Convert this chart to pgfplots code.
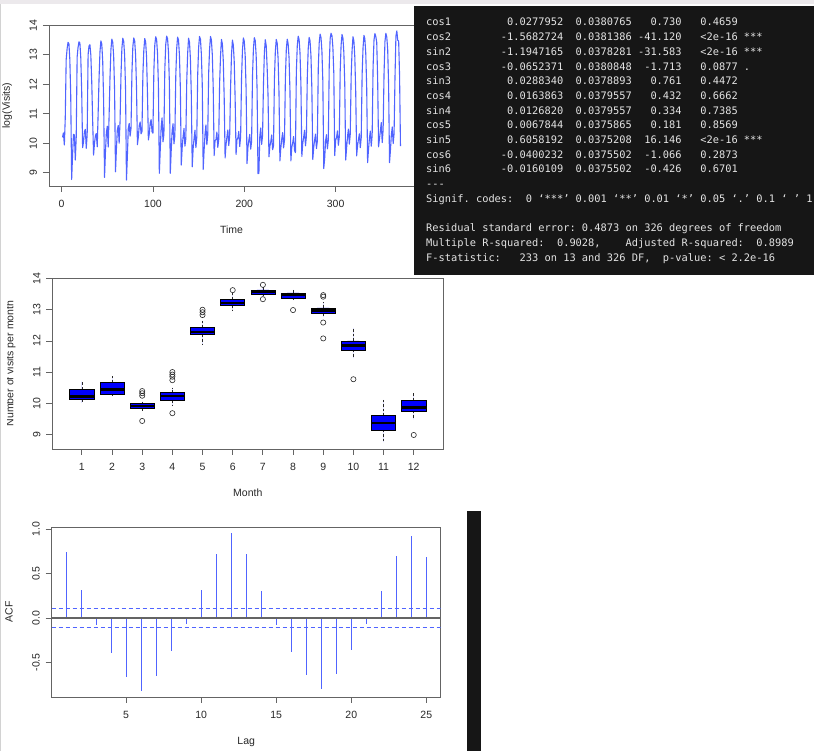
\documentclass[border=0pt]{standalone}
\usepackage{fontspec}
\setmainfont{Liberation Sans}
\newfontfamily\mono{DejaVu Sans Mono}
\usepackage{pgfplots}
\pgfplotsset{compat=1.18}
\usepgfplotslibrary{statistics}

\definecolor{rblue}{RGB}{0,0,255}
\definecolor{rline}{RGB}{80,100,255}
\definecolor{rframe}{RGB}{100,100,100}
\definecolor{rtext}{RGB}{40,40,40}
\definecolor{console}{RGB}{228,228,228}
\definecolor{panel}{RGB}{22,22,22}
\definecolor{strip}{RGB}{236,233,236}

\pgfplotsset{
  rstyle/.style={
    scale only axis,
    axis line style={rframe, line width=0.9pt},
    tick style={rframe, line width=0.8pt},
    major tick length=6pt,
    tick align=outside,
    xtick pos=left, ytick pos=left,
    /pgf/number format/assume math mode=true,
    tick label style={font=\fontsize{10.5}{12}\selectfont, text=rtext},
    xticklabel style={anchor=base, yshift=-16pt},
    yticklabel style={xshift=-6pt, rotate=90, anchor=base},
    every axis x label/.style={at={(axis description cs:0.5,0)}, yshift=-48pt, anchor=base,
      font=\fontsize{10.5}{12}\selectfont, text=rtext},
    every axis y label/.style={at={(axis description cs:0,0.5)}, xshift=-39pt, rotate=90, anchor=base,
      font=\fontsize{10.5}{12}\selectfont, text=rtext},
  },
  boxplot/draw/whisker/.code 2 args={%
    \draw[/pgfplots/boxplot/every whisker/.try, dash pattern=on 2.5pt off 2pt]
      (boxplot cs:#1) -- (boxplot cs:#2);
    \draw[/pgfplots/boxplot/every whisker/.try]
      (boxplot whisker cs:#1,0) -- (boxplot whisker cs:#1,1);
  },
  rbox/.style={draw=black, fill=rblue, line width=0.6pt,
    mark=o, mark size=2.6pt, mark options={draw=rtext, fill=none, solid, line width=0.6pt}},
}

% one console line: baseline (image y), text
\newcommand\conline[2]{\node[anchor=base west, inner sep=0pt, text=console,
  font=\mono\fontsize{10.35}{12}\selectfont] at (426,{751-#1}) {#2};}

\begin{document}
\begin{tikzpicture}[x=1pt,y=1pt]
\useasboundingbox (0,0) rectangle (814,751);
\fill[white] (0,0) rectangle (814,751);
\fill[strip] (0,747) rectangle (814,751);
\fill[gray!35] (0,0) rectangle (1.2,747);

% ---------------- time series ----------------
\begin{axis}[rstyle,
  at={(49pt,565pt)}, anchor=south west,
  width=365pt, height=161pt,
  xmin=-13.8, xmax=385.8, ymin=8.55, ymax=14.01,
  xtick={0,100,200,300}, ytick={9,10,11,12,13,14},
  xlabel={Time}, ylabel={log(Visits)},
]
\addplot[rline, line width=1.1pt, line join=round, no markers] coordinates {
(1,10.20)(2,10.35)(3,9.94)(4,10.85)(5,12.83)(6,13.20)(7,13.42)(8,13.38)(9,12.85)(10,11.60)(11,8.77)(12,9.60)
(13,10.30)(14,10.28)(15,9.43)(16,10.20)(17,12.92)(18,13.25)(19,13.44)(20,13.40)(21,12.90)(22,11.75)(23,9.85)(24,10.05)
(25,10.40)(26,10.47)(27,9.83)(28,10.30)(29,13.00)(30,13.30)(31,13.34)(32,12.99)(33,12.08)(34,10.77)(35,9.60)(36,10.00)
(37,10.25)(38,10.33)(39,9.88)(40,11.00)(41,12.20)(42,13.10)(43,13.47)(44,13.36)(45,12.78)(46,11.45)(47,8.84)(48,9.70)
(49,10.35)(50,10.58)(51,9.87)(52,10.92)(53,12.25)(54,13.18)(55,13.53)(56,13.42)(57,12.95)(58,11.80)(59,9.03)(60,9.80)
(61,10.45)(62,10.60)(63,10.00)(64,10.74)(65,12.30)(66,13.22)(67,13.56)(68,13.45)(69,12.98)(70,11.85)(71,8.75)(72,9.55)
(73,10.50)(74,10.67)(75,10.24)(76,10.50)(77,12.40)(78,13.28)(79,13.57)(80,13.47)(81,13.00)(82,11.90)(83,9.95)(84,10.20)
(85,10.60)(86,10.72)(87,10.32)(88,10.40)(89,12.35)(90,13.15)(91,13.55)(92,13.44)(93,12.93)(94,11.70)(95,10.11)(96,10.32)
(97,10.69)(98,10.80)(99,10.39)(100,10.34)(101,12.45)(102,13.32)(103,13.61)(104,13.52)(105,13.05)(106,11.95)(107,8.98)(108,9.78)
(109,10.55)(110,10.86)(111,10.05)(112,10.30)(113,12.50)(114,13.35)(115,13.63)(116,13.55)(117,13.10)(118,12.05)(119,8.98)(120,9.75)
(121,10.42)(122,10.66)(123,9.98)(124,10.25)(125,12.28)(126,13.21)(127,13.60)(128,13.50)(129,12.99)(130,11.88)(131,9.26)(132,9.85)
(133,10.22)(134,10.50)(135,9.90)(136,10.15)(137,12.10)(138,13.05)(139,13.56)(140,13.43)(141,12.88)(142,11.65)(143,9.20)(144,9.82)
(145,10.15)(146,10.44)(147,9.85)(148,10.20)(149,12.33)(150,13.24)(151,13.62)(152,13.53)(153,13.03)(154,11.98)(155,9.11)(156,9.76)
(157,10.30)(158,10.62)(159,9.95)(160,10.28)(161,12.38)(162,13.19)(163,13.62)(164,13.50)(165,13.00)(166,11.86)(167,9.58)(168,10.09)
(169,10.12)(170,10.38)(171,9.86)(172,10.12)(173,12.05)(174,12.96)(175,13.52)(176,13.37)(177,12.80)(178,11.55)(179,9.50)(180,9.95)
(181,10.21)(182,10.45)(183,9.92)(184,10.24)(185,11.90)(186,13.00)(187,13.50)(188,13.33)(189,12.76)(190,11.50)(191,9.62)(192,10.12)
(193,10.18)(194,10.40)(195,9.89)(196,10.22)(197,12.22)(198,13.16)(199,13.57)(200,13.46)(201,12.95)(202,11.82)(203,9.31)(204,9.86)
(205,10.10)(206,10.30)(207,9.80)(208,10.05)(209,12.29)(210,13.20)(211,13.58)(212,13.48)(213,12.97)(214,11.84)(215,8.97)(216,8.98)
(217,10.25)(218,10.52)(219,9.96)(220,10.26)(221,12.00)(222,13.08)(223,13.51)(224,13.31)(225,12.59)(226,11.62)(227,9.54)(228,9.90)
(229,10.05)(230,10.28)(231,9.78)(232,9.91)(233,12.18)(234,13.12)(235,13.52)(236,13.40)(237,12.88)(238,11.72)(239,9.40)(240,9.84)
(241,10.14)(242,10.36)(243,9.84)(244,10.10)(245,12.21)(246,13.17)(247,13.53)(248,13.38)(249,12.90)(250,11.78)(251,9.40)(252,9.87)
(253,10.01)(254,10.23)(255,9.76)(256,9.68)(257,12.42)(258,13.30)(259,13.63)(260,13.52)(261,13.06)(262,12.00)(263,9.55)(264,10.00)
(265,10.20)(266,10.44)(267,9.91)(268,10.24)(269,12.27)(270,13.21)(271,13.59)(272,13.47)(273,12.96)(274,11.83)(275,9.45)(276,9.86)
(277,10.11)(278,10.31)(279,9.82)(280,10.08)(281,12.55)(282,13.40)(283,13.70)(284,13.58)(285,13.12)(286,12.10)(287,9.14)(288,9.48)
(289,10.08)(290,10.29)(291,9.81)(292,10.10)(293,12.64)(294,13.55)(295,13.73)(296,13.64)(297,13.25)(298,12.38)(299,9.58)(300,10.10)
(301,10.19)(302,10.42)(303,9.93)(304,10.21)(305,12.44)(306,13.33)(307,13.69)(308,13.56)(309,13.08)(310,12.02)(311,9.43)(312,9.83)
(313,10.22)(314,10.48)(315,9.97)(316,10.30)(317,12.26)(318,13.14)(319,13.61)(320,13.47)(321,12.92)(322,11.74)(323,9.57)(324,9.92)
(325,10.13)(326,10.32)(327,9.85)(328,10.18)(329,12.31)(330,13.23)(331,13.66)(332,13.54)(333,13.04)(334,11.92)(335,9.34)(336,9.79)
(337,10.17)(338,10.41)(339,9.90)(340,10.27)(341,12.58)(342,13.50)(343,13.72)(344,13.62)(345,13.42)(346,12.20)(347,9.88)(348,10.15)
(349,10.43)(350,10.70)(351,10.02)(352,10.45)(353,12.36)(354,13.45)(355,13.73)(356,13.60)(357,13.18)(358,11.96)(359,9.34)(360,9.76)
(361,10.28)(362,10.55)(363,9.99)(364,10.33)(365,12.24)(366,13.63)(367,13.81)(368,13.49)(369,13.47)(370,12.30)(371,9.90)
};
\end{axis}

% ---------------- console panel ----------------
\fill[panel] (414,476) rectangle (814,745);
\conline{26.0}{cos1~~~~~~~~~0.0277952~~0.0380765~~~0.730~~~0.4659}
\conline{40.7}{cos2~~~~~~~~-1.5682724~~0.0381386~-41.120~~~<2e-16~***}
\conline{55.4}{sin2~~~~~~~~-1.1947165~~0.0378281~-31.583~~~<2e-16~***}
\conline{70.1}{cos3~~~~~~~~-0.0652371~~0.0380848~~-1.713~~~0.0877~.}
\conline{84.8}{sin3~~~~~~~~~0.0288340~~0.0378893~~~0.761~~~0.4472}
\conline{99.5}{cos4~~~~~~~~~0.0163863~~0.0379557~~~0.432~~~0.6662}
\conline{114.2}{sin4~~~~~~~~~0.0126820~~0.0379557~~~0.334~~~0.7385}
\conline{128.9}{cos5~~~~~~~~~0.0067844~~0.0375865~~~0.181~~~0.8569}
\conline{143.6}{sin5~~~~~~~~~0.6058192~~0.0375208~~16.146~~~<2e-16~***}
\conline{158.3}{cos6~~~~~~~~-0.0400232~~0.0375502~~-1.066~~~0.2873}
\conline{173.0}{sin6~~~~~~~~-0.0160109~~0.0375502~~-0.426~~~0.6701}
\conline{187.7}{-{}-{}-}
\conline{202.4}{Signif.~codes:~~0~‘***’~0.001~‘**’~0.01~‘*’~0.05~‘.’~0.1~‘~’~1}
\conline{231.8}{Residual~standard~error:~0.4873~on~326~degrees~of~freedom}
\conline{246.5}{Multiple~R-squared:~~0.9028,~~~~Adjusted~R-squared:~~0.8989}
\conline{261.2}{F-statistic:~~~233~on~13~and~326~DF,~~p-value:~<~2.2e-16}

% ---------------- monthly box plots ----------------
\begin{scope}
\clip (7,0) rectangle (814,751);
\begin{axis}[rstyle,
  at={(52.3pt,302pt)}, anchor=south west,
  width=391pt, height=171pt,
  xmin=0.02, xmax=12.98, ymin=8.53, ymax=14.02,
  xtick={1,2,...,12}, ytick={9,10,11,12,13,14},
  xlabel={Month}, ylabel={Number of visits per month},
  boxplot/draw direction=y,
  boxplot/box extend=0.8,
  boxplot/whisker extend=0.4,
  boxplot/every median/.style={draw=black, line width=2.4pt},
  boxplot/every whisker/.style={draw=rtext, line width=0.6pt},
]
\addplot[rbox, boxplot prepared={draw position=1, lower whisker=10.01, lower quartile=10.11,
  median=10.21, upper quartile=10.44, upper whisker=10.69}] coordinates {};
\addplot[rbox, boxplot prepared={draw position=2, lower whisker=10.23, lower quartile=10.30,
  median=10.44, upper quartile=10.66, upper whisker=10.86}] coordinates {};
\addplot[rbox, boxplot prepared={draw position=3, lower whisker=9.76, lower quartile=9.84,
  median=9.91, upper quartile=9.99, upper whisker=10.05}]
  table[row sep=\\, y index=0] {10.24\\ 10.32\\ 10.39\\ 9.43\\};
\addplot[rbox, boxplot prepared={draw position=4, lower whisker=9.91, lower quartile=10.10,
  median=10.24, upper quartile=10.34, upper whisker=10.50}]
  table[row sep=\\, y index=0] {10.74\\ 10.85\\ 10.92\\ 11.00\\ 9.68\\};
\addplot[rbox, boxplot prepared={draw position=5, lower whisker=11.90, lower quartile=12.20,
  median=12.29, upper quartile=12.44, upper whisker=12.64}]
  table[row sep=\\, y index=0] {12.83\\ 12.92\\ 13.00\\};
\addplot[rbox, boxplot prepared={draw position=6, lower whisker=12.96, lower quartile=13.15,
  median=13.21, upper quartile=13.32, upper whisker=13.55}]
  table[row sep=\\, y index=0] {13.63\\};
\addplot[rbox, boxplot prepared={draw position=7, lower whisker=13.42, lower quartile=13.51,
  median=13.58, upper quartile=13.64, upper whisker=13.73}]
  table[row sep=\\, y index=0] {13.80\\ 13.34\\};
\addplot[rbox, boxplot prepared={draw position=8, lower whisker=13.31, lower quartile=13.37,
  median=13.47, upper quartile=13.54, upper whisker=13.64}]
  table[row sep=\\, y index=0] {12.99\\};
\addplot[rbox, boxplot prepared={draw position=9, lower whisker=12.76, lower quartile=12.89,
  median=12.98, upper quartile=13.06, upper whisker=13.25}]
  table[row sep=\\, y index=0] {13.42\\ 13.47\\ 12.59\\ 12.08\\};
\addplot[rbox, boxplot prepared={draw position=10, lower whisker=11.45, lower quartile=11.71,
  median=11.85, upper quartile=12.00, upper whisker=12.42}]
  table[row sep=\\, y index=0] {10.77\\};
\addplot[rbox, boxplot prepared={draw position=11, lower whisker=8.75, lower quartile=9.14,
  median=9.36, upper quartile=9.60, upper whisker=10.11}] coordinates {};
\addplot[rbox, boxplot prepared={draw position=12, lower whisker=9.48, lower quartile=9.75,
  median=9.86, upper quartile=10.09, upper whisker=10.32}]
  table[row sep=\\, y index=0] {8.98\\};
\end{axis}
\end{scope}

% ---------------- ACF ----------------
\begin{axis}[rstyle,
  at={(51.7pt,54pt)}, anchor=south west,
  width=389pt, height=170pt,
  xmin=0.04, xmax=25.96, ymin=-0.889, ymax=1.024,
  xtick={5,10,15,20,25},
  ytick={-0.5,0,0.5,1}, yticklabels={-0.5,0.0,0.5,1.0},
  xlabel={Lag}, ylabel={ACF},
]
\addplot[ycomb, rline, line width=1.1pt, no markers] coordinates {
(1,0.742)(2,0.319)(3,-0.075)(4,-0.390)(5,-0.667)(6,-0.817)(7,-0.652)(8,-0.375)
(9,-0.064)(10,0.315)(11,0.724)(12,0.956)(13,0.716)(14,0.307)(15,-0.075)(16,-0.382)
(17,-0.645)(18,-0.795)(19,-0.634)(20,-0.360)(21,-0.064)(22,0.304)(23,0.694)(24,0.922)(25,0.690)
};
\addplot[rframe, line width=1.1pt] coordinates {(0.04,0)(25.96,0)};
\addplot[rline, line width=1pt, dash pattern=on 4pt off 3pt] coordinates {(0.04,0.1018)(25.96,0.1018)};
\addplot[rline, line width=1pt, dash pattern=on 4pt off 3pt] coordinates {(0.04,-0.1018)(25.96,-0.1018)};
\end{axis}

\fill[panel] (467,0) rectangle (481,240);
\end{tikzpicture}
\end{document}
